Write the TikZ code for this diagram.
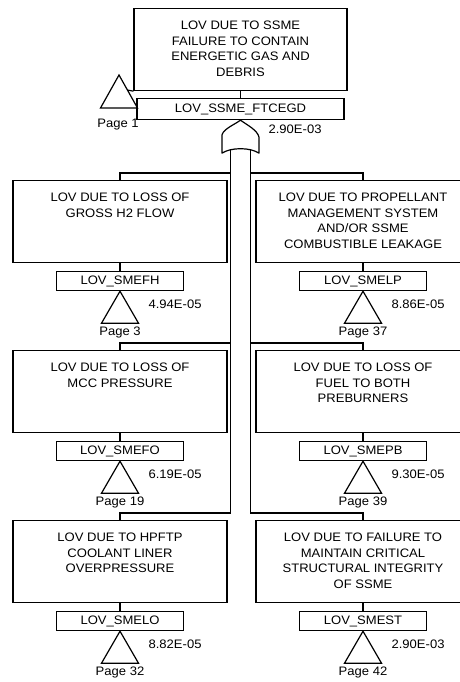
\documentclass[tikz,border=0pt]{standalone}
\usepackage{fontspec}
\setmainfont{Liberation Sans}[FakeStretch=1.06]
\usetikzlibrary{calc}
\newcommand\evfont{\fontsize{12.3}{15.6}\selectfont}
% one branch of the fault tree: event box, identifier box, transfer triangle
% #1 name, #2 x centre, #3 y of feed line, #4 description, #5 identifier,
% #6 probability, #7 page, #8 x of the gate input line
\newcommand\ftbranch[8]{%
  \node[evbox] (#1) at (#2,#3+7) {};
  \node[evtext] (#1t) at ([yshift=-12.5pt]#1.north) {#4};
  \node[idbox] (#1id) at (#2,#3+98) {#5};
  \draw (#1.south) -- (#1id.north);
  \coordinate (#1h) at (#8,#3);
  \draw (#1h) -| (#1.north);
  \draw (#1id.south) -- ++(-18.5,32) -- ++(37,0) -- cycle;
  \node[prob] (#1p) at ([xshift=28pt,yshift=-13pt]#1id.south) {#6};
  \node[pagelbl] (#1pg) at (#2,#3+159) {Page #7};
}
\begin{document}
\begin{tikzpicture}[x=1pt,y=-1pt,line width=1.2pt,
  evbox/.style={draw,minimum width=214pt,minimum height=82pt,inner sep=0pt,anchor=north},
  evtext/.style={anchor=north,align=center,inner sep=0pt,font=\evfont},
  idbox/.style={draw,minimum width=127pt,minimum height=19pt,inner sep=0pt,anchor=north,font=\evfont},
  prob/.style={anchor=west,inner sep=0pt,font=\evfont},
  pagelbl/.style={inner sep=0pt,font=\evfont}]
\useasboundingbox (0,0) rectangle (460,682);
\clip (0,0) rectangle (460,682);
\fill[white] (0,0) rectangle (460,682);

% top event
\node[evbox,minimum width=213pt] (top) at (240.5,8) {};
\node[evtext] (topt) at ([yshift=-12.5pt]top.north)
  {LOV DUE TO SSME\\FAILURE TO CONTAIN\\ENERGETIC GAS AND\\DEBRIS};
\node[idbox,minimum width=207pt,minimum height=21pt] (topid) at (240.5,98) {LOV\_SSME\_FTCEGD};
\draw (top.south) -- (topid.north);
\node[prob] (topp) at (268,129) {2.90E-03};

% transfer triangle of the top event
\coordinate (ta) at (119,75);
\coordinate (tl) at (100.5,108);
\coordinate (tr) at (137.5,108);
\draw (ta) -- (tl) -- (tr) -- cycle;
\draw ($(ta)!0.455!(tr)$) -- (top.south west);
\node[pagelbl] (toppg) at (118,125) {Page 1};

% OR gate
\coordinate (g) at (topid.south);
\draw[line join=round] (g) .. controls +(-7,5) and +(-1.5,-7) .. ++(-18.5,17)
  -- ++(0,16) .. controls +(8.5,-6) and +(-8.5,-6) .. ++(37,0)
  -- ++(0,-16) .. controls +(-1.5,-7) and +(7,5) .. (g);
\coordinate (gl) at ($(g)+(-9.7,30)$);
\coordinate (gr) at ($(g)+(9.7,30)$);

% branches
\ftbranch{L1}{120}{173}{LOV DUE TO LOSS OF\\GROSS H2 FLOW}{LOV\_SMEFH}{4.94E-05}{3}{230.8}
\ftbranch{L2}{120}{343}{LOV DUE TO LOSS OF\\MCC PRESSURE}{LOV\_SMEFO}{6.19E-05}{19}{230.8}
\ftbranch{L3}{120}{513}{LOV DUE TO HPFTP\\COOLANT LINER\\OVERPRESSURE}{LOV\_SMELO}{8.82E-05}{32}{230.8}
\ftbranch{R1}{363}{173}{LOV DUE TO PROPELLANT\\MANAGEMENT SYSTEM\\AND/OR SSME\\COMBUSTIBLE LEAKAGE}{LOV\_SMELP}{8.86E-05}{37}{250.2}
\ftbranch{R2}{363}{343}{LOV DUE TO LOSS OF\\FUEL TO BOTH\\PREBURNERS}{LOV\_SMEPB}{9.30E-05}{39}{250.2}
\ftbranch{R3}{363}{513}{LOV DUE TO FAILURE TO\\MAINTAIN CRITICAL\\STRUCTURAL INTEGRITY\\OF SSME}{LOV\_SMEST}{2.90E-03}{42}{250.2}

% gate input lines
\draw (gl) -- (L3h);
\draw (gr) -- (R3h);
\end{tikzpicture}
\end{document}
